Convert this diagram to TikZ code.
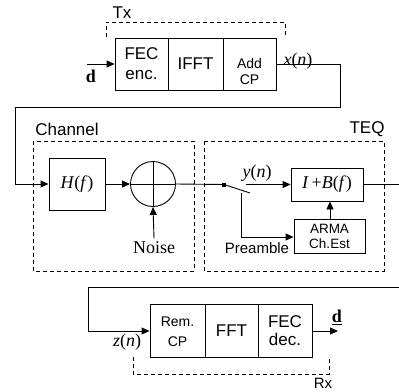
\documentclass[tikz,border=0pt]{standalone}
\usepackage{fontspec}
\setmainfont{Liberation Sans}
\newfontfamily\tms{Liberation Serif}
\usetikzlibrary{arrows.meta}
\begin{document}
\begin{tikzpicture}[x=1pt,y=-1pt,
  blk/.style={draw,line width=0.9pt,inner sep=0pt,align=center},
  big/.style={font=\fontsize{17}{20}\selectfont},
  small/.style={font=\fontsize{14}{16}\selectfont},
  ser/.style={font=\tms\fontsize{18}{20}\selectfont},
  dbox/.style={draw,line width=0.9pt,dash pattern=on 4pt off 3pt},
  wire/.style={line width=0.9pt},
  arr/.style={line width=0.9pt,-{Triangle[length=8pt,width=7pt]}}]
\useasboundingbox (0,0) rectangle (399,391);
% Tx
\node[blk,big,minimum width=53pt,minimum height=52pt] (fec) at (141.5,64) {FEC\\enc.};
\node[blk,big,minimum width=55pt,minimum height=52pt] (ifft) at (195.5,64) {IFFT};
\node[blk,minimum width=53pt,minimum height=52pt] (addcp) at (249.5,64) {};
\node[small,align=center] (addlbl) at (249.5,71) {Add\\CP};
\node[big] (txl) at (122,13) {Tx};
\draw[dbox] (106,37) -- (106,22) -- (285,22) -- (285,37);
\coordinate (din) at (87,64);
\draw[arr] (din) -- (fec.west);
\node[ser] (d1) at (91,76) {\textbf{d}};
\node[ser] (xn) at (298,61) {\textit{x}(\textit{n})};
% link Tx -> Channel
\coordinate (c1) at (340,64);
\coordinate (c2) at (340,107);
\coordinate (c3) at (15,107);
\coordinate (c4) at (15,184);
% Channel
\draw[dbox] (33,141) rectangle (194,271);
\node[big] (chl) at (67,129) {Channel};
\node[blk,ser,minimum width=56pt,minimum height=52pt] (H) at (77,184) {\textit{H}(\textit{f})};
\node[draw,circle,line width=0.9pt,minimum size=45pt,inner sep=0pt] (add) at (153,184) {};
\draw[wire] (add.west) -- (add.east) (add.north) -- (add.south);
\node[ser] (noise) at (154,248) {Noise};
\draw[wire] (addcp.east) -- (c1) -- (c2) -- (c3) -- (c4);
\draw[arr] (c4) -- (H.west);
\draw[arr] (H.east) -- (add.west);
\draw[arr] (noise.north) -- (add.south);
% TEQ
\draw[dbox] (204,141) rectangle (384,271);
\node[big] (teq) at (367,129) {TEQ};
\node[blk,ser,minimum width=72pt,minimum height=33pt] (IB) at (327,184.5) {\textit{I}\,+\textit{B}(\textit{f})};
\node[blk,minimum width=71pt,minimum height=34pt,font=\fontsize{13.5}{15}\selectfont] (arma) at (329.5,236) {ARMA\\Ch.Est};
\coordinate (sw) at (224,184.5);
\coordinate (swe) at (250,193);
\coordinate (ys) at (246,184.5);
\coordinate (ps) at (241,193);
\coordinate (pc) at (241,237);
\draw[wire] (add.east) -- (sw);
\draw[wire] (sw) -- (swe);
\fill (sw) ++(-2,-2) rectangle ++(4,4);
\draw[arr] (ys) -- (IB.west);
\draw[wire] (ps) -- (pc);
\draw[arr] (pc) -- (arma.west |- pc);
\draw[arr] (arma.north -| 330,0) -- (IB.south -| 330,0);
\coordinate (ibo) at (399,184.5);
\draw[wire] (IB.east) -- (ibo);
\node[ser] (yn) at (257,173) {\textit{y}(\textit{n})};
\node[font=\fontsize{15}{17}\selectfont] (pre) at (257,248) {Preamble};
% Rx
\node[blk,minimum width=55pt,minimum height=53pt] (rem) at (177.5,330.5) {};
\node[align=center,font=\fontsize{14}{20}\selectfont] (remlbl) at (177.5,332) {Rem.\\CP};
\node[blk,big,minimum width=53pt,minimum height=53pt] (fft) at (231.5,330.5) {FFT};
\node[blk,minimum width=54pt,minimum height=53pt,font=\fontsize{17}{18}\selectfont] (fdec) at (285,330.5) {FEC\\dec.};
\coordinate (r1) at (399,287);
\coordinate (r2) at (88,287);
\coordinate (r3) at (88,331);
\draw[wire] (r1) -- (r2) -- (r3);
\draw[arr] (r3) -- (rem.west |- r3);
\coordinate (dout) at (338,331);
\draw[arr] (fdec.east |- dout) -- (dout);
\node[ser] (d2) at (337,317) {\underline{\textbf{d}}};
\node[ser] (zn) at (127,342) {\textit{z}(\textit{n})};
\draw[dbox] (133,357) -- (133,374) -- (329,374) -- (329,357);
\node[font=\fontsize{15}{17}\selectfont] (rx) at (323,383) {Rx};
\end{tikzpicture}
\end{document}
